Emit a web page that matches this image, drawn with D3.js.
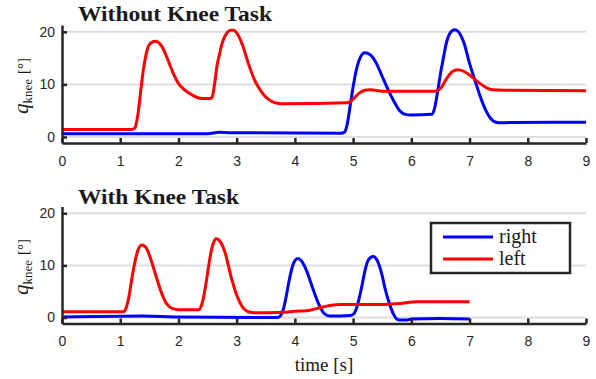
<!DOCTYPE html>
<html lang="en">
<head>
<meta charset="UTF-8">
<title>Knee angle</title>
<script src="https://d3js.org/d3.v7.min.js"></script>
<style>
  body { margin: 0; background: #fff; }
  .tick text { font-family: "Liberation Sans", Arial, sans-serif; font-size: 14px; fill: #262626; }
  .serif { font-family: "Liberation Serif", "Times New Roman", serif; fill: #1a1a1a; }
</style>
</head>
<body>
<div id="chart"></div>
<script>
// x ticks and y ticks
const xTicks = [0, 1, 2, 3, 4, 5, 6, 7, 8, 9];
const yTicks = [0, 10, 20];

// Without Knee Task
const topRightT = [0, 2.5, 2.7, 2.9, 4.8, 4.85, 4.9, 4.95, 5.0, 5.05, 5.1, 5.2, 5.3, 5.4, 5.5, 5.6, 5.7, 5.8, 5.9, 6.0, 6.35, 6.4, 6.45, 6.5, 6.55, 6.6, 6.7, 6.75, 6.8, 6.9, 7.0, 7.1, 7.2, 7.3, 7.4, 7.5, 7.7, 9.0];
const topRightV = [0.6, 0.6, 0.9, 0.8, 0.7, 0.9, 2.5, 6, 9.5, 12.5, 14.5, 16, 15.6, 14, 11.5, 9, 6.8, 5, 4.3, 4.2, 4.3, 5.5, 8.5, 12, 15, 17.8, 20.2, 20.4, 20.1, 18, 14, 10.5, 7.2, 4.6, 3.1, 2.7, 2.75, 2.8];
const topLeftT = [0, 1.2, 1.25, 1.3, 1.35, 1.4, 1.45, 1.5, 1.6, 1.7, 1.8, 1.9, 2.0, 2.1, 2.2, 2.3, 2.4, 2.55, 2.58, 2.62, 2.66, 2.7, 2.75, 2.8, 2.9, 2.95, 3.0, 3.1, 3.2, 3.3, 3.4, 3.5, 3.6, 3.7, 3.8, 4.9, 5.0, 5.1, 5.2, 5.3, 5.5, 6.4, 6.5, 6.6, 6.7, 6.8, 6.9, 7.0, 7.1, 7.2, 7.3, 7.4, 7.6, 9.0];
const topLeftV = [1.4, 1.4, 1.7, 4, 8.5, 13, 16, 17.6, 18.2, 17.5, 15.2, 12.4, 10.2, 9.0, 8.2, 7.6, 7.3, 7.3, 7.6, 10, 13.4, 15.5, 17.8, 19.2, 20.3, 20.3, 19.8, 17.5, 14, 11, 9, 7.6, 6.8, 6.4, 6.3, 6.5, 7.2, 8.3, 8.9, 9.0, 8.7, 8.7, 9.2, 11, 12.4, 12.8, 12.5, 11.8, 10.9, 10, 9.3, 9.0, 8.9, 8.8];

// With Knee Task
const botRightT = [0, 1.4, 2.0, 3.7, 3.75, 3.8, 3.85, 3.9, 3.95, 4.0, 4.05, 4.1, 4.2, 4.3, 4.4, 4.5, 4.6, 4.95, 5.0, 5.05, 5.1, 5.15, 5.2, 5.25, 5.3, 5.35, 5.4, 5.45, 5.5, 5.55, 5.6, 5.65, 5.7, 5.75, 5.8, 5.9, 6.0, 6.5, 7.0];
const botRightV = [0.1, 0.3, 0.1, 0.0, 0.3, 1.5, 4, 7, 9.5, 10.9, 11.3, 11.0, 9.0, 5.8, 2.8, 0.8, 0.3, 0.4, 0.6, 1.5, 3.5, 6, 8.8, 10.8, 11.5, 11.7, 11.2, 10, 8, 5.5, 3.5, 1.8, 0.5, -0.3, -0.5, -0.5, -0.3, -0.2, -0.3];
const botLeftT = [0, 1.05, 1.1, 1.15, 1.2, 1.25, 1.3, 1.37, 1.45, 1.5, 1.6, 1.7, 1.8, 1.9, 2.0, 2.35, 2.4, 2.45, 2.5, 2.55, 2.6, 2.65, 2.7, 2.8, 2.9, 3.0, 3.1, 3.2, 3.3, 3.8, 4.0, 4.2, 4.4, 4.6, 4.8, 5.5, 5.8, 6.1, 7.0];
const botLeftV = [1.1, 1.1, 1.8, 4, 7.5, 10.5, 12.8, 13.9, 13.3, 12, 8.5, 5, 2.6, 1.7, 1.5, 1.5, 2.5, 5, 8.5, 12, 14.3, 15.1, 14.8, 12.5, 8, 4.3, 2.0, 1.1, 0.9, 1.0, 1.2, 1.3, 1.8, 2.3, 2.5, 2.5, 2.7, 3.0, 3.0];

const width = 596, height = 379;
const svg = d3.select("#chart").append("svg")
  .attr("width", width).attr("height", height);

const x = d3.scaleLinear().domain([0, 9]).range([62, 586]);

function panel(top, bottom, title, titleY, titleW, rightT, rightV, leftT, leftV) {
  const y = d3.scaleLinear().domain([-1.15, 21.3]).range([bottom, top]);
  const g = svg.append("g");

  // horizontal grid
  g.selectAll(".grid").data(yTicks).enter().append("line")
    .attr("x1", x(0)).attr("x2", x(9))
    .attr("y1", d => y(d)).attr("y2", d => y(d))
    .attr("stroke", "#dedede").attr("stroke-width", 2);

  const line = d3.line().x(d => x(d[0])).y(d => y(d[1])).curve(d3.curveMonotoneX);
  g.append("path").datum(d3.zip(rightT, rightV))
    .attr("fill", "none").attr("stroke", "#0000ff").attr("stroke-width", 3).attr("d", line);
  g.append("path").datum(d3.zip(leftT, leftV))
    .attr("fill", "none").attr("stroke", "#ff0000").attr("stroke-width", 3).attr("d", line);

  const xa = g.append("g").attr("transform", `translate(0,${bottom})`)
    .call(d3.axisBottom(x).tickValues(xTicks).tickSizeInner(-5).tickSizeOuter(0).tickPadding(13));
  const ya = g.append("g").attr("transform", `translate(${x(0)},0)`)
    .call(d3.axisLeft(y).tickValues(yTicks).tickSizeInner(-5).tickSizeOuter(0).tickPadding(7));
  [xa, ya].forEach(a => {
    a.select(".domain").attr("stroke", "#262626").attr("stroke-width", 2.5);
    a.selectAll(".tick line").attr("stroke", "#262626").attr("stroke-width", 2.5);
  });

  // title
  g.append("text").attr("class", "serif")
    .attr("x", 78).attr("y", titleY)
    .attr("font-weight", "bold").attr("font-size", 20)
    .attr("textLength", titleW).attr("lengthAdjust", "spacingAndGlyphs")
    .text(title);

  // y label
  const yl = g.append("text").attr("class", "serif")
    .attr("text-anchor", "middle")
    .attr("transform", `translate(28,${(top + bottom) / 2 + 2}) rotate(-90)`);
  yl.append("tspan").attr("font-style", "italic").attr("font-size", 21).text("q");
  yl.append("tspan").attr("font-size", 13).attr("dy", 4).text("knee");
  yl.append("tspan").attr("font-size", 15).attr("dy", -4).attr("dx", 5).text("[°]");
  return y;
}

panel(25, 143, "Without Knee Task", 21, 194, topRightT, topRightV, topLeftT, topLeftV);
panel(206.5, 323.5, "With Knee Task", 204, 161, botRightT, botRightV, botLeftT, botLeftV);

// x label
svg.append("text").attr("class", "serif")
  .attr("x", x(4.5)).attr("y", 371).attr("text-anchor", "middle")
  .attr("font-size", 19).text("time [s]");

// legend
const legend = svg.append("g").attr("transform", "translate(431,223)");
legend.append("rect").attr("width", 139).attr("height", 50)
  .attr("fill", "#fff").attr("stroke", "#262626").attr("stroke-width", 2.5);
const items = [["right", "#0000ff"], ["left", "#ff0000"]];
items.forEach((d, i) => {
  const yy = 14 + i * 22;
  legend.append("line").attr("x1", 12).attr("x2", 62).attr("y1", yy).attr("y2", yy)
    .attr("stroke", d[1]).attr("stroke-width", 3);
  legend.append("text").attr("class", "serif").attr("x", 68).attr("y", yy + 6)
    .attr("font-size", 20).text(d[0]);
});
</script>
</body>
</html>
